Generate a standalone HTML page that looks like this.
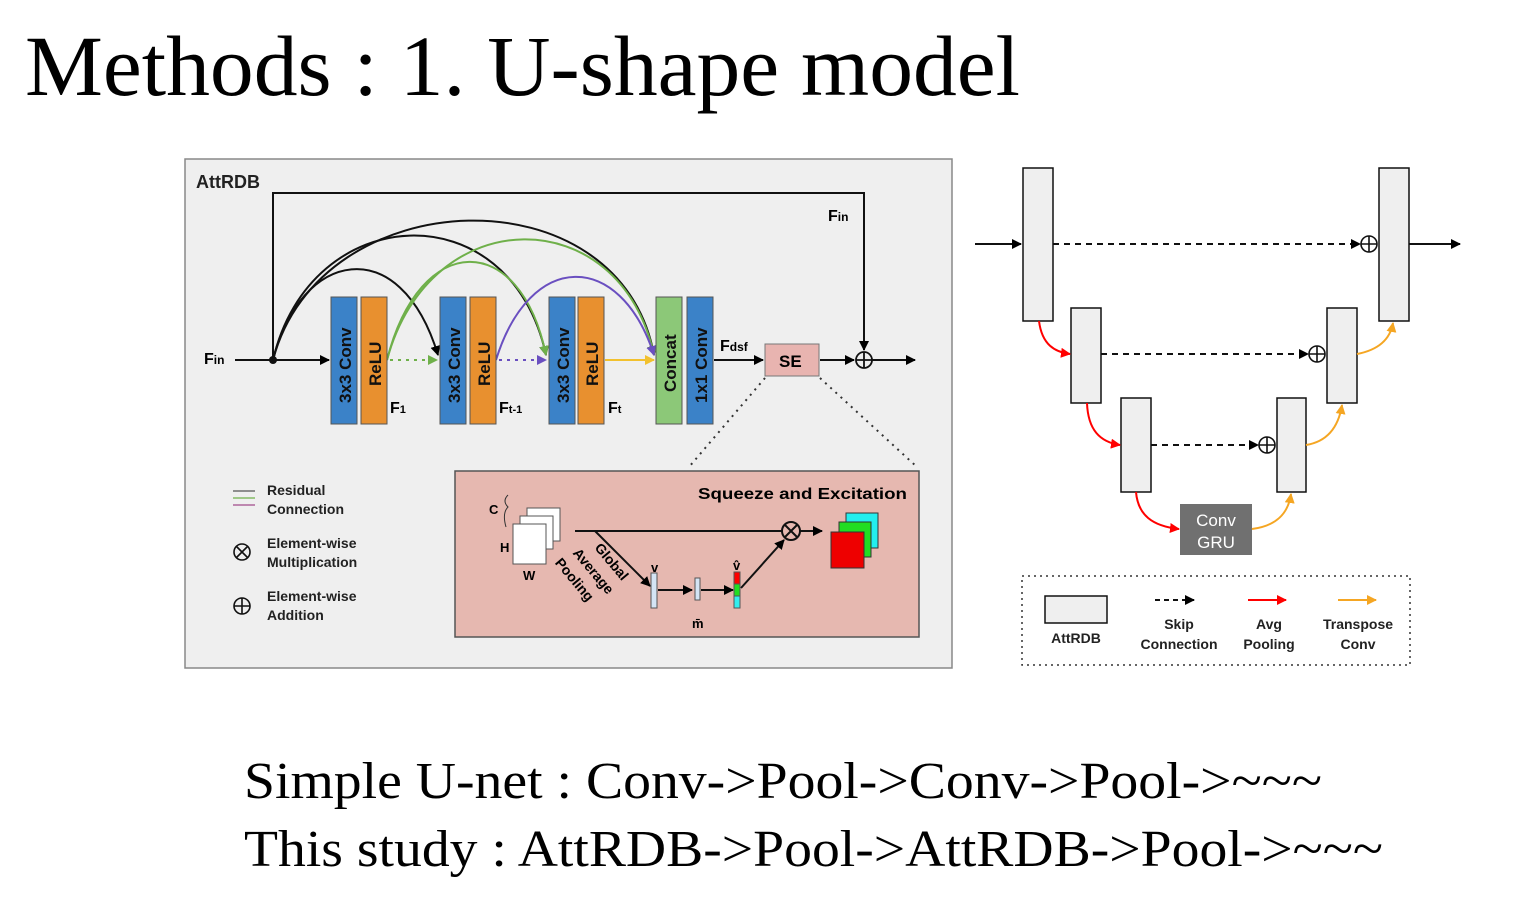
<!DOCTYPE html>
<html><head><meta charset="utf-8"><style>
html,body{margin:0;padding:0;background:#fff;width:1540px;height:906px;overflow:hidden}
svg{display:block}
.s{font-family:"Liberation Sans",sans-serif;font-weight:bold}
.t{font-family:"Liberation Serif",serif}
</style></head><body>
<svg width="1540" height="906" viewBox="0 0 1540 906" xmlns="http://www.w3.org/2000/svg">
<defs>
<marker id="a" markerWidth="10" markerHeight="10" refX="9" refY="5" orient="auto" markerUnits="userSpaceOnUse"><path d="M0,0 L10,5 L0,10z" fill="#000"/></marker>
<marker id="ag" markerWidth="10" markerHeight="10" refX="9" refY="5" orient="auto" markerUnits="userSpaceOnUse"><path d="M0,0 L10,5 L0,10z" fill="#6fb04a"/></marker>
<marker id="ap" markerWidth="10" markerHeight="10" refX="9" refY="5" orient="auto" markerUnits="userSpaceOnUse"><path d="M0,0 L10,5 L0,10z" fill="#6a4fc0"/></marker>
<marker id="ay" markerWidth="10" markerHeight="10" refX="9" refY="5" orient="auto" markerUnits="userSpaceOnUse"><path d="M0,0 L10,5 L0,10z" fill="#f2c12e"/></marker>
<marker id="ar" markerWidth="10" markerHeight="10" refX="9" refY="5" orient="auto" markerUnits="userSpaceOnUse"><path d="M0,0 L10,5 L0,10z" fill="#f00"/></marker>
<marker id="ao" markerWidth="10" markerHeight="10" refX="9" refY="5" orient="auto" markerUnits="userSpaceOnUse"><path d="M0,0 L10,5 L0,10z" fill="#f5a623"/></marker>
</defs>
<text x="25" y="95" class="t" font-size="86" textLength="995" lengthAdjust="spacingAndGlyphs">Methods : 1. U-shape model</text>

<rect x="185" y="159" width="767" height="509" fill="#efefef" stroke="#888" stroke-width="1.5"/>
<text x="196" y="188" class="s" font-size="18" fill="#222">AttRDB</text>
<path d="M273,360 V193 H864 V350" fill="none" stroke="#111" stroke-width="2" marker-end="url(#a)"/>
<text x="828" y="221" class="s" font-size="16">F<tspan font-size="12">in</tspan></text>
<text x="204" y="364" class="s" font-size="16">F<tspan font-size="12">in</tspan></text>
<line x1="235" y1="360" x2="329" y2="360" stroke="#111" stroke-width="2" marker-end="url(#a)"/>
<circle cx="273" cy="360" r="4" fill="#111"/>
<g fill="none" stroke-width="2">
<path d="M273,360 C300,250 400,230 438,355" stroke="#111" marker-end="url(#a)"/>
<path d="M273,360 C310,200 510,190 546,355" stroke="#111" marker-end="url(#a)"/>
<path d="M273,360 C320,180 620,170 654,355" stroke="#111" marker-end="url(#a)"/>
<path d="M387,360 C420,230 520,230 546,355" stroke="#6fb04a" marker-end="url(#ag)"/>
<path d="M387,360 C430,200 620,200 654,355" stroke="#6fb04a" marker-end="url(#ag)"/>
<path d="M496,360 C530,250 620,250 654,355" stroke="#6a4fc0" marker-end="url(#ap)"/>
<line x1="390" y1="360" x2="437" y2="360" stroke="#6fb04a" stroke-dasharray="3,5" marker-end="url(#ag)"/>
<line x1="499" y1="360" x2="546" y2="360" stroke="#6a4fc0" stroke-dasharray="3,5" marker-end="url(#ap)"/>
<line x1="605" y1="360" x2="654" y2="360" stroke="#f2c12e" marker-end="url(#ay)"/>
<line x1="714" y1="360" x2="763" y2="360" stroke="#111" marker-end="url(#a)"/>
<line x1="820" y1="360" x2="854" y2="360" stroke="#111" marker-end="url(#a)"/>
<line x1="872" y1="360" x2="915" y2="360" stroke="#111" marker-end="url(#a)"/>
</g>
<circle cx="864" cy="360" r="8" fill="none" stroke="#111" stroke-width="1.8"/>
<path d="M856,360H872M864,352V368" stroke="#111" stroke-width="1.8"/>
<g stroke="#555" stroke-width="1">
<rect x="331" y="297" width="26" height="127" fill="#3b82c8"/><rect x="361" y="297" width="26" height="127" fill="#e8902f"/>
<rect x="440" y="297" width="26" height="127" fill="#3b82c8"/><rect x="470" y="297" width="26" height="127" fill="#e8902f"/>
<rect x="549" y="297" width="26" height="127" fill="#3b82c8"/><rect x="578" y="297" width="26" height="127" fill="#e8902f"/>
<rect x="656" y="297" width="26" height="127" fill="#8cc878"/><rect x="687" y="297" width="26" height="127" fill="#3b82c8"/>
</g>
<g class="s" font-size="17" fill="#111">
<text transform="translate(351,403) rotate(-90)">3x3 Conv</text>
<text transform="translate(381,386) rotate(-90)">ReLU</text>
<text transform="translate(460,403) rotate(-90)">3x3 Conv</text>
<text transform="translate(490,386) rotate(-90)">ReLU</text>
<text transform="translate(569,403) rotate(-90)">3x3 Conv</text>
<text transform="translate(598,386) rotate(-90)">ReLU</text>
<text transform="translate(676,392) rotate(-90)">Concat</text>
<text transform="translate(707,403) rotate(-90)">1x1 Conv</text>
</g>
<g class="s" font-size="16"><text x="390" y="413">F<tspan font-size="11">1</tspan></text><text x="499" y="413">F<tspan font-size="11">t-1</tspan></text><text x="608" y="413">F<tspan font-size="11">t</tspan></text><text x="720" y="351">F<tspan font-size="12">dsf</tspan></text></g>
<rect x="765" y="344" width="54" height="32" fill="#e8b4b0" stroke="#777"/>
<text x="779" y="367" class="s" font-size="17">SE</text>
<line x1="765" y1="378" x2="689" y2="467" stroke="#333" stroke-width="2" stroke-dasharray="2,5"/>
<line x1="820" y1="378" x2="917" y2="467" stroke="#333" stroke-width="2" stroke-dasharray="2,5"/>
<rect x="455" y="471" width="464" height="166" fill="#e6b8b0" stroke="#555" stroke-width="1.5"/>
<text x="698" y="499" class="s" font-size="16" textLength="209" lengthAdjust="spacingAndGlyphs">Squeeze and Excitation</text>
<g stroke="#555" stroke-width="1">
<rect x="527" y="508" width="33" height="33" fill="#fff"/><rect x="520" y="516" width="33" height="33" fill="#fff"/><rect x="513" y="524" width="33" height="40" fill="#fff"/>
</g>
<path d="M508,495 q-6,6 0,12 q-6,6 -2,20" fill="none" stroke="#333"/>
<g class="s" font-size="13"><text x="489" y="514">C</text><text x="500" y="552">H</text><text x="523" y="580">W</text>
<text x="651" y="572">v</text><text x="692" y="628">m̄</text><text x="733" y="570">v̂</text></g>
<g stroke="#111" stroke-width="2" fill="none">
<line x1="575" y1="531" x2="782" y2="531"/>
<line x1="595" y1="531" x2="650" y2="586" marker-end="url(#a)"/>
<line x1="658" y1="590" x2="692" y2="590" marker-end="url(#a)"/>
<line x1="701" y1="590" x2="733" y2="590" marker-end="url(#a)"/>
<line x1="741" y1="588" x2="784" y2="540" marker-end="url(#a)"/>
<line x1="800" y1="531" x2="822" y2="531" marker-end="url(#a)"/>
</g>
<circle cx="791" cy="531" r="9" fill="none" stroke="#111" stroke-width="2"/>
<path d="M785,525L797,537M797,525L785,537" stroke="#111" stroke-width="2"/>
<g class="s" font-size="14" transform="translate(594,548) rotate(50)"><text x="0" y="0">Global</text><text x="-10" y="20">Average</text><text x="-14" y="40">Pooling</text></g>
<rect x="651" y="573" width="6" height="35" fill="#d4e4f4" stroke="#555"/>
<rect x="695" y="578" width="5" height="22" fill="#d4e4f4" stroke="#555"/>
<rect x="734" y="572" width="6" height="12" fill="#f00" stroke="#555"/><rect x="734" y="584" width="6" height="12" fill="#2d2" stroke="#555"/><rect x="734" y="596" width="6" height="12" fill="#3ee" stroke="#555"/>
<g stroke="#333" stroke-width="1"><rect x="846" y="513" width="32" height="35" fill="#2ee"/><rect x="839" y="522" width="32" height="35" fill="#2d2"/><rect x="831" y="532" width="33" height="36" fill="#e00"/></g>
<g stroke-width="1.3"><line x1="233" y1="491" x2="255" y2="491" stroke="#555"/><line x1="233" y1="498" x2="255" y2="498" stroke="#6fb04a"/><line x1="233" y1="505" x2="255" y2="505" stroke="#a04a8a"/></g>
<g class="s" font-size="14" fill="#222"><text x="267" y="495">Residual</text><text x="267" y="514">Connection</text>
<text x="267" y="548">Element-wise</text><text x="267" y="567">Multiplication</text>
<text x="267" y="601">Element-wise</text><text x="267" y="620">Addition</text></g>
<circle cx="242" cy="552" r="8" fill="none" stroke="#111" stroke-width="1.6"/><path d="M236,546L248,558M248,546L236,558" stroke="#111" stroke-width="1.6"/>
<circle cx="242" cy="606" r="8" fill="none" stroke="#111" stroke-width="1.6"/><path d="M234,606H250M242,598V614" stroke="#111" stroke-width="1.6"/>

<g stroke="#111" stroke-width="1.5" fill="#efefef">
<rect x="1023" y="168" width="30" height="153"/><rect x="1071" y="308" width="30" height="95"/><rect x="1121" y="398" width="30" height="94"/>
<rect x="1277" y="398" width="29" height="94"/><rect x="1327" y="308" width="30" height="95"/><rect x="1379" y="168" width="30" height="153"/>
</g>
<rect x="1180" y="504" width="72" height="51" fill="#707070"/>
<text x="1216" y="526" font-family="Liberation Sans,sans-serif" font-size="17" fill="#fff" text-anchor="middle">Conv</text>
<text x="1216" y="548" font-family="Liberation Sans,sans-serif" font-size="17" fill="#fff" text-anchor="middle">GRU</text>
<g stroke="#111" stroke-width="2" fill="none">
<line x1="975" y1="244" x2="1021" y2="244" marker-end="url(#a)"/>
<line x1="1409" y1="244" x2="1460" y2="244" marker-end="url(#a)"/>
<line x1="1053" y1="244" x2="1360" y2="244" stroke-dasharray="6,5" marker-end="url(#a)"/>
<line x1="1101" y1="354" x2="1308" y2="354" stroke-dasharray="6,5" marker-end="url(#a)"/>
<line x1="1151" y1="445" x2="1258" y2="445" stroke-dasharray="6,5" marker-end="url(#a)"/>
</g>
<g stroke="#111" stroke-width="1.6" fill="none">
<circle cx="1369" cy="244" r="8"/><path d="M1361,244H1377M1369,236V252"/>
<circle cx="1317" cy="354" r="8"/><path d="M1309,354H1325M1317,346V362"/>
<circle cx="1267" cy="445" r="8"/><path d="M1259,445H1275M1267,437V453"/>
</g>
<g fill="none" stroke-width="2">
<path d="M1039,321 C1042,345 1055,352 1070,354" stroke="#f00" marker-end="url(#ar)"/>
<path d="M1087,403 C1088,430 1100,442 1120,445" stroke="#f00" marker-end="url(#ar)"/>
<path d="M1136,492 C1138,515 1152,526 1179,529" stroke="#f00" marker-end="url(#ar)"/>
<path d="M1252,529 C1275,526 1288,515 1291,494" stroke="#f5a623" marker-end="url(#ao)"/>
<path d="M1306,445 C1325,442 1338,430 1342,405" stroke="#f5a623" marker-end="url(#ao)"/>
<path d="M1357,354 C1378,350 1390,340 1393,323" stroke="#f5a623" marker-end="url(#ao)"/>
</g>
<rect x="1022" y="576" width="388" height="89" fill="none" stroke="#333" stroke-width="1.5" stroke-dasharray="2,4"/>
<rect x="1045" y="596" width="62" height="27" fill="#efefef" stroke="#111" stroke-width="1.5"/>
<line x1="1155" y1="600" x2="1194" y2="600" stroke="#111" stroke-width="2" stroke-dasharray="5,4" marker-end="url(#a)"/>
<line x1="1248" y1="600" x2="1286" y2="600" stroke="#f00" stroke-width="2" marker-end="url(#ar)"/>
<line x1="1338" y1="600" x2="1376" y2="600" stroke="#f5a623" stroke-width="2" marker-end="url(#ao)"/>
<g class="s" font-size="14" fill="#222" text-anchor="middle">
<text x="1076" y="643">AttRDB</text>
<text x="1179" y="629">Skip</text><text x="1179" y="649">Connection</text>
<text x="1269" y="629">Avg</text><text x="1269" y="649">Pooling</text>
<text x="1358" y="629">Transpose</text><text x="1358" y="649">Conv</text>
</g>

<text x="244" y="798" class="t" font-size="52" textLength="1078" lengthAdjust="spacingAndGlyphs">Simple U-net : Conv-&gt;Pool-&gt;Conv-&gt;Pool-&gt;~~~</text>
<text x="244" y="866" class="t" font-size="52" textLength="1139" lengthAdjust="spacingAndGlyphs">This study : AttRDB-&gt;Pool-&gt;AttRDB-&gt;Pool-&gt;~~~</text>
</svg>
</body></html>
